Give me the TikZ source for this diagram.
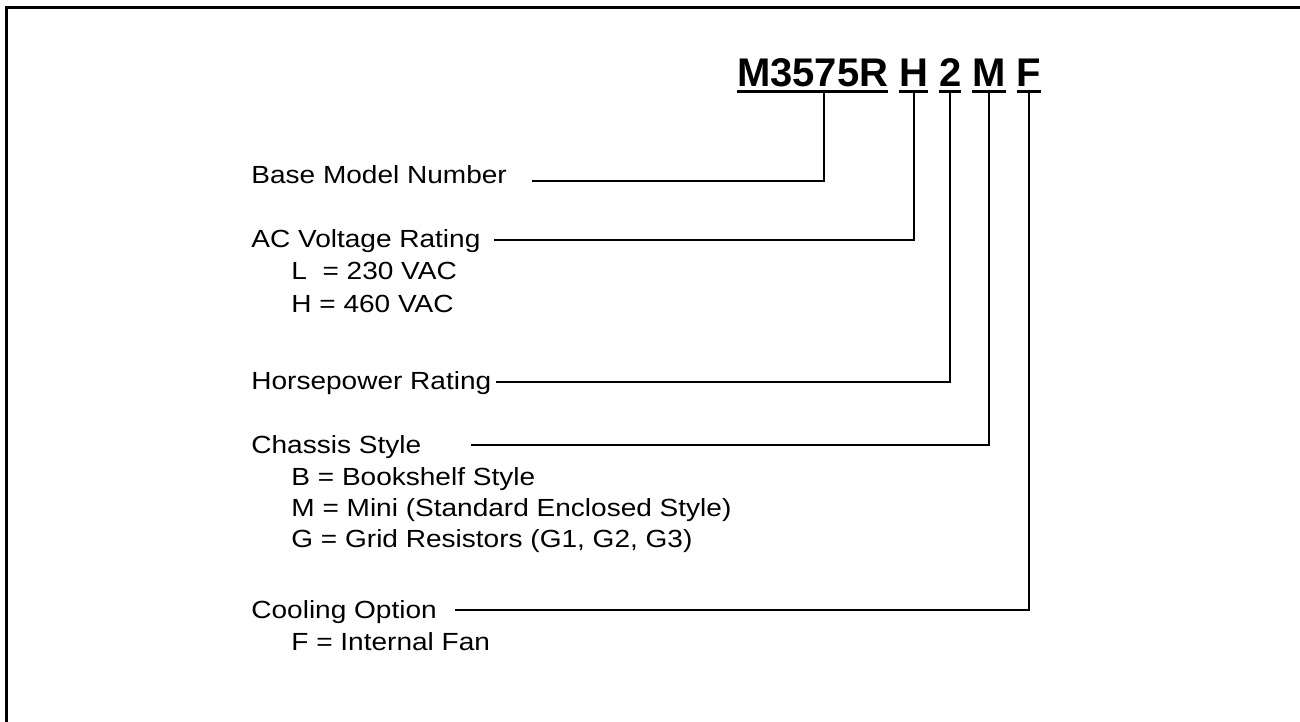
\documentclass[tikz,border=0pt]{standalone}
\usepackage{fontspec}
\setmainfont{Liberation Sans}
\newfontfamily\lblfont[FakeStretch=1.13]{Liberation Sans}
\usetikzlibrary{positioning}
\tikzset{
  code/.style ={font=\fontsize{20}{24}\selectfont\bfseries, inner xsep=0pt,
                inner ysep=2.5pt, text depth=0pt, outer sep=0pt},
  head/.style ={font=\lblfont\fontsize{12.4}{16}\selectfont, inner sep=0pt,
                anchor=base west},
  uline/.style={line width=1.5pt},
  lead/.style ={line width=0.9pt},
  frame/.style={line width=1.5pt},
}

\begin{document}
\begin{tikzpicture}[x=0.5pt, y=-0.5pt]
  \useasboundingbox (0,0) rectangle (1300,722);
  \draw[frame] (1300,7.5) -- (6,7.5) -- (6,722);
  % model code
  \node[code, anchor=base west] (cBase) at (737,87) {M3575R};
  \node[code, base right=5.5pt of cBase] (cV) {H};
  \node[code, base right=5.5pt of cV] (cHP) {2};
  \node[code, base right=5.5pt of cHP] (cCh) {M};
  \node[code, base right=5.5pt of cCh] (cCool) {F};
  \foreach \c in {cBase,cV,cHP,cCh,cCool}
    \draw[uline] (\c.south west) -- (\c.south east);
  % labels
  \node[head] (lBase) at (251,183) {Base Model Number};
  \node[head] (lV)    at (251,247) {AC Voltage Rating};
  \node[head] (oV1)   at (291,279) {L\ \ = 230 VAC};
  \node[head] (oV2)   at (291,312) {H = 460 VAC};
  \node[head] (lHP)   at (251,389) {Horsepower Rating};
  \node[head] (lCh)   at (251,453) {Chassis Style};
  \node[head] (oCh1)  at (291,485) {B = Bookshelf Style};
  \node[head] (oCh2)  at (291,516) {M = Mini (Standard Enclosed Style)};
  \node[head] (oCh3)  at (291,547) {G = Grid Resistors (G1, G2, G3)};
  \node[head] (lCool) at (251,618) {Cooling Option};
  \node[head] (oCool) at (291,650) {F = Internal Fan};
  % leader ends
  \coordinate (eBase) at (532,181);
  \coordinate (eV)    at (494,240);
  \coordinate (eHP)   at (496,382);
  \coordinate (eCh)   at (471,445);
  \coordinate (eCool) at (455,610);
  \draw[lead] ([xshift=43.5pt]cBase.south west) |- (eBase);
  \draw[lead] (cV.south) |- (eV);
  \draw[lead] (cHP.south) |- (eHP);
  \draw[lead] (cCh.south) |- (eCh);
  \draw[lead] (cCool.south) |- (eCool);
\end{tikzpicture}
\end{document}
